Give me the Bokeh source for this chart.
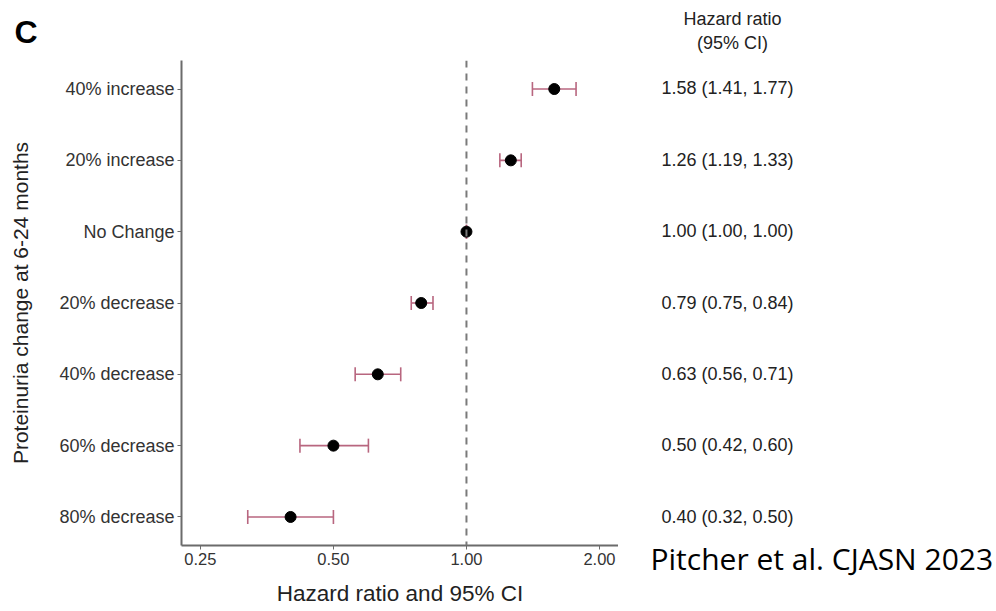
from bokeh.plotting import figure
from bokeh.layouts import row
from bokeh.models import (ColumnDataSource, FixedTicker, Whisker, TeeHead, Span,
                          Range1d)
from bokeh.core.properties import value
from bokeh.embed import file_html
from bokeh.resources import INLINE

# Proteinuria change categories, top to bottom
categories = ["40% increase", "20% increase", "No Change", "20% decrease",
              "40% decrease", "60% decrease", "80% decrease"]
hazard_ratio = [1.58, 1.26, 1.00, 0.79, 0.63, 0.50, 0.40]
ci_lower = [1.41, 1.19, 1.00, 0.75, 0.56, 0.42, 0.32]
ci_upper = [1.77, 1.33, 1.00, 0.84, 0.71, 0.60, 0.50]
x_ticks = [0.25, 0.5, 1.0, 2.0]
x_tick_labels = ["0.25", "0.50", "1.00", "2.00"]

n = len(categories)
row_pos = [n - i for i in range(n)]  # top row highest
hr_text = [f"{h:.2f} ({lo:.2f}, {hi:.2f})" for h, lo, hi in zip(hazard_ratio, ci_lower, ci_upper)]

src = ColumnDataSource(dict(y=row_pos, hr=hazard_ratio, lo=ci_lower, hi=ci_upper,
                            label=hr_text))

FONT = "Liberation Sans"
AXIS_GREY = "#6b6b6b"
BAR_COLOR = "#b8667f"
TEXT = "#222222"

H = 611
TOP, BOTTOM = 59, 66
Y_LO, Y_HI = 0.6, n + 0.4

# ---- forest plot ----
p = figure(width=618, height=H, x_axis_type="log",
           x_range=Range1d(0.2266, 2.208), y_range=Range1d(Y_LO, Y_HI),
           output_backend="svg", toolbar_location=None,
           min_border_left=181, min_border_right=0,
           min_border_top=TOP, min_border_bottom=BOTTOM)

p.background_fill_color = "white"
p.border_fill_color = "white"
p.outline_line_color = None
p.grid.visible = False

p.title.text = "C"
p.title.text_font = FONT
p.title.text_font_style = "bold"
p.title.text_font_size = "32px"
p.title.text_color = "black"
p.title.align = "left"
p.title.offset = -167
p.title.standoff = 22

# Reference line at HR = 1
p.add_layout(Span(location=1.0, dimension="height", line_color="#7a7a7a",
                  line_width=2, line_dash="7 6"))

# Confidence intervals
p.add_layout(Whisker(source=src, base="y", lower="lo", upper="hi", dimension="width",
                     line_color=BAR_COLOR, line_width=1.6,
                     lower_head=TeeHead(size=14, line_color=BAR_COLOR, line_width=1.6),
                     upper_head=TeeHead(size=14, line_color=BAR_COLOR, line_width=1.6)))

# Point estimates
p.scatter(x="hr", y="y", source=src, size=11, color="black")

# X axis
xa = p.xaxis[0]
xa.ticker = FixedTicker(ticks=x_ticks)
xa.major_label_overrides = {t: s for t, s in zip(x_ticks, x_tick_labels)}
xa.axis_label = "Hazard ratio and 95% CI"
xa.axis_label_text_font_size = "22.5px"
xa.major_label_text_font_size = "16.5px"
xa.axis_label_standoff = 13

# Y axis
ya = p.yaxis[0]
ya.ticker = FixedTicker(ticks=row_pos)
ya.major_label_overrides = {y: c for y, c in zip(row_pos, categories)}
ya.axis_label = "Proteinuria change at 6-24 months"
ya.axis_label_text_font_size = "21px"
ya.major_label_text_font_size = "18px"
ya.axis_label_standoff = 24

for ax in (xa, ya):
    ax.axis_line_color = AXIS_GREY
    ax.axis_line_width = 2
    ax.major_tick_line_color = AXIS_GREY
    ax.major_tick_out = 4
    ax.major_tick_in = 0
    ax.minor_tick_line_color = None
    ax.major_label_text_font = FONT
    ax.major_label_text_color = "#333333"
    ax.major_label_standoff = 3
    ax.axis_label_text_font = FONT
    ax.axis_label_text_font_style = "normal"
    ax.axis_label_text_color = TEXT

# ---- right-hand table ----
W2 = 996 - 618
px_per_unit = (H - TOP - BOTTOM) / (Y_HI - Y_LO)
t_lo = Y_LO - BOTTOM / px_per_unit
t_hi = Y_HI + TOP / px_per_unit

def y_at(px):
    """Convert a pixel row (from the top of the page) to the table's y units."""
    return Y_HI + (TOP - px) / px_per_unit

t = figure(width=W2, height=H, x_range=Range1d(0, W2), y_range=Range1d(t_lo, t_hi),
           output_backend="svg", toolbar_location=None,
           x_axis_location=None, y_axis_location=None,
           min_border_left=0, min_border_right=0, min_border_top=0, min_border_bottom=0)
t.background_fill_color = "white"
t.border_fill_color = "white"
t.outline_line_color = None
t.grid.visible = False

# the table panel keeps its own full-height frame
for fig in (p, t):
    if "frame_align" in fig.properties():
        fig.frame_align = False

t.text(x=109, y="y", text="label", source=src, text_align="center",
       text_baseline="middle", text_font=value(FONT), text_font_size="18px",
       text_color=TEXT)
t.text(x=[114, 114], y=[y_at(18), y_at(42)], text=["Hazard ratio", "(95% CI)"],
       text_align="center", text_baseline="middle", text_font=value(FONT),
       text_font_size="18px", text_color=TEXT)
t.text(x=[32], y=[y_at(558)], text=["Pitcher et al. CJASN 2023"], text_align="left",
       text_baseline="middle", text_font=value("Open Sans"), text_font_size="30px",
       text_color="black")

layout = row(p, t, spacing=0)
open("out.html", "w").write(file_html(layout, INLINE))
